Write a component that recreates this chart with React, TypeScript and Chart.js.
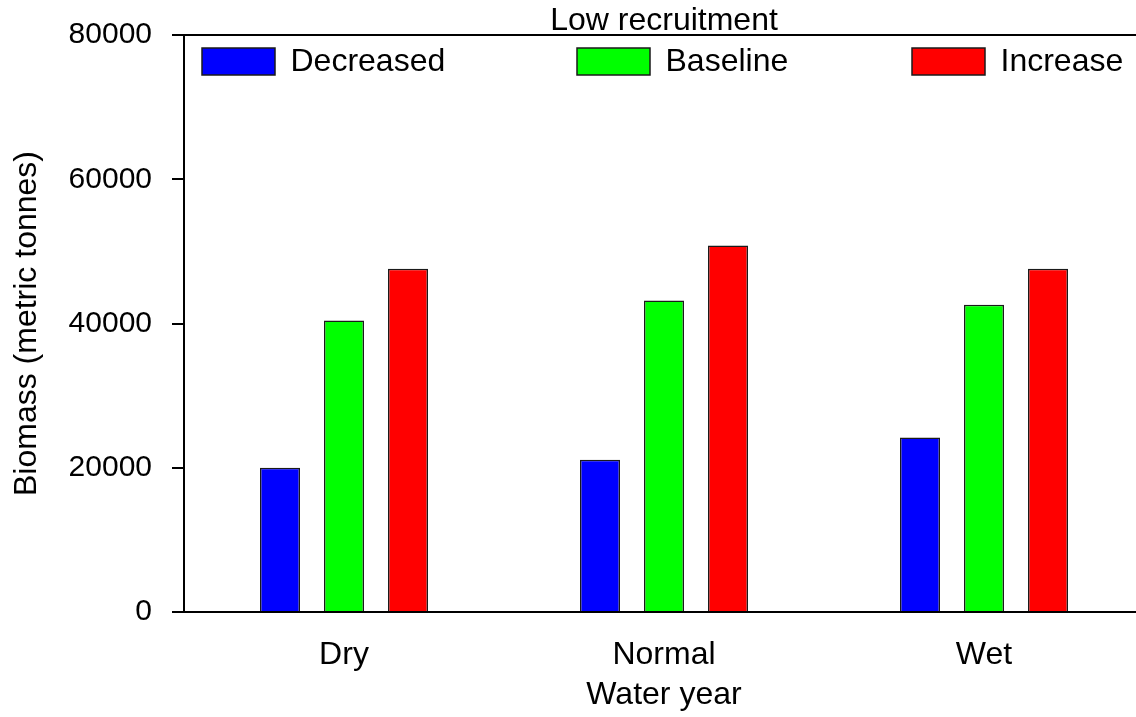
import React, { useEffect, useRef } from 'react';
import { Chart, registerables } from 'chart.js';

Chart.register(...registerables);

const categories = ['Dry', 'Normal', 'Wet'];
const seriesNames = ['Decreased', 'Baseline', 'Increase'];
const decreasedValues = [20000, 21100, 24200];
const baselineValues = [40400, 43200, 42600];
const increaseValues = [47600, 50800, 47600];
const seriesColors = ['#0000ff', '#00ff00', '#ff0000'];
const yTicks = [0, 20000, 40000, 60000, 80000];
const chartTitle = 'Low recruitment';
const xTitle = 'Water year';
const yTitle = 'Biomass (metric tonnes)';

const FONT = "'Liberation Sans', Arial, Helvetica, sans-serif";
const FS = 32;
const FS_Y = 30;

const framePlugin = {
  id: 'frameTop',
  afterDraw(chart: any) {
    const { ctx, chartArea } = chart;
    ctx.save();
    ctx.strokeStyle = '#000';
    ctx.lineWidth = 2;
    ctx.beginPath();
    ctx.moveTo(chartArea.left - 1, chartArea.top);
    ctx.lineTo(chartArea.right, chartArea.top);
    ctx.stroke();
    // chart title, centred over the plot area, just above the top frame line
    ctx.font = `${FS}px ${FONT}`;
    ctx.fillStyle = '#000';
    ctx.textAlign = 'center';
    ctx.textBaseline = 'middle';
    ctx.fillText(chartTitle, (chartArea.left + chartArea.right) / 2, chartArea.top - 13.5);
    ctx.restore();
  },
};

const insideLegend = {
  id: 'insideLegend',
  afterDatasetsDraw(chart: any) {
    const { ctx, chartArea } = chart;
    const boxX = [202, 577, 912];
    const boxW = 73;
    const boxH = 27;
    const y = chartArea.top + 13;
    ctx.save();
    ctx.font = `${FS}px ${FONT}`;
    ctx.textBaseline = 'middle';
    ctx.textAlign = 'left';
    chart.data.datasets.forEach((ds: any, i: number) => {
      const x = boxX[i];
      ctx.fillStyle = ds.backgroundColor;
      ctx.fillRect(x, y, boxW, boxH);
      ctx.lineWidth = 1.5;
      ctx.strokeStyle = '#1a1a1a';
      ctx.strokeRect(x, y, boxW, boxH);
      ctx.fillStyle = '#000';
      ctx.fillText(ds.label, x + 88.5, y + 14.5);
    });
    ctx.restore();
  },
};

export default function App() {
  const canvasRef = useRef<HTMLCanvasElement | null>(null);

  useEffect(() => {
    if (!canvasRef.current) return;
    const seriesValues = [decreasedValues, baselineValues, increaseValues];
    const chart = new Chart(canvasRef.current, {
      type: 'bar',
      data: {
        labels: categories,
        datasets: seriesNames.map((name, i) => ({
          label: name,
          data: seriesValues[i],
          backgroundColor: seriesColors[i],
          borderColor: '#1a1a1a',
          borderWidth: 1.5,
          categoryPercentage: 0.6,
          barPercentage: 0.625,
        })),
      },
      options: {
        responsive: false,
        animation: false,
        layout: { padding: { left: 0, right: 8, top: 35, bottom: 0 } },
        plugins: {
          legend: { display: false },
          tooltip: { enabled: false },
          title: { display: false },
        },
        scales: {
          x: {
            grid: { display: false, drawTicks: false },
            border: { display: true, color: '#000', width: 2 },
            ticks: { color: '#000', font: { family: FONT, size: FS, lineHeight: 1.2 }, padding: 24 },
            title: {
              display: true,
              text: xTitle,
              color: '#000',
              font: { family: FONT, size: FS, lineHeight: 1.2 },
              padding: { top: 0, bottom: 3 },
            },
            afterFit: (s: any) => {
              s.height = 105;
            },
          },
          y: {
            min: 0,
            max: 80000,
            afterBuildTicks: (s: any) => {
              s.ticks = yTicks.map((v) => ({ value: v }));
            },
            grid: {
              display: true,
              drawOnChartArea: false,
              drawTicks: true,
              tickLength: 12,
              color: '#000',
              lineWidth: 2,
            },
            border: { display: true, color: '#000', width: 2 },
            ticks: {
              color: '#000',
              font: { family: FONT, size: FS_Y, lineHeight: 1.2 },
              padding: 20,
              callback: (v: any) => String(v),
            },
            title: {
              display: true,
              text: yTitle,
              color: '#000',
              font: { family: FONT, size: FS, lineHeight: 1.2 },
              padding: { top: 8.3, bottom: 0 },
            },
            afterFit: (s: any) => {
              s.width = 184;
              s.paddingTop = 0;
              s.paddingBottom = 0;
            },
          },
        },
      },
      plugins: [framePlugin, insideLegend],
    });
    return () => chart.destroy();
  }, []);

  return (
    <div
      style={{
        position: 'absolute',
        left: 0,
        top: 0,
        width: 1136,
        height: 717,
        overflow: 'hidden',
        background: '#fff',
      }}
    >
      <canvas ref={canvasRef} width={1152} height={717} style={{ display: 'block' }} />
    </div>
  );
}
